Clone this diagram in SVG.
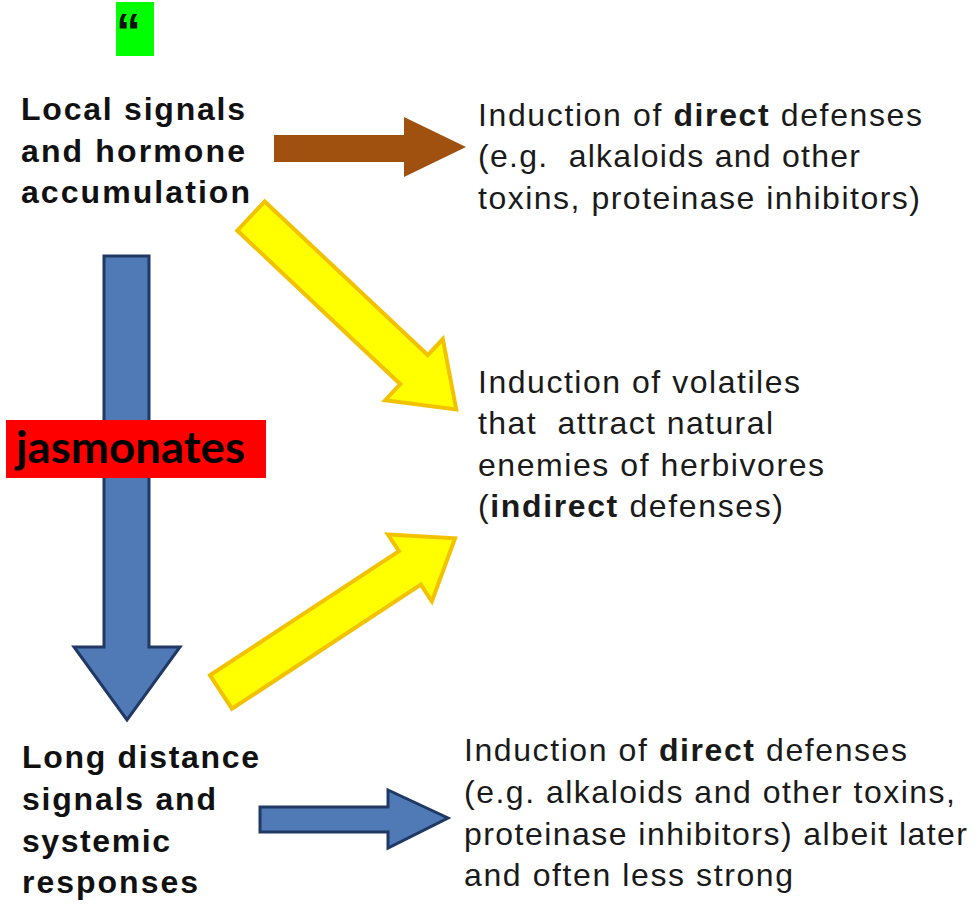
<svg xmlns="http://www.w3.org/2000/svg" width="979" height="907" viewBox="0 0 979 907">
<style>
.lbl{font-family:"Liberation Sans",Arial,sans-serif;font-weight:bold;font-size:32px;fill:#111}
.txt{font-family:"Liberation Sans",Arial,sans-serif;font-size:32px;fill:#1a1a1a;white-space:pre}
.b{font-weight:bold}
.yel{fill:#FFFF00;stroke:#F2C200;stroke-width:4;stroke-linejoin:miter}
.blue{fill:#4F7AB5;stroke:#1F3864;stroke-width:3}
.brown{fill:#A0500F}
</style>
<rect width="979" height="907" fill="#fff"/>
<g id="connectors">
  <polygon id="arrow-local-direct" class="brown" points="274,135 404,135 404,117 466,147 404,177 404,162 274,162"/>
  <polygon id="arrow-local-indirect" class="yel" transform="translate(251,216) rotate(43.3)" points="0,-20 224,-20 224,-42 282,0 224,42 224,20 0,20"/>
  <polygon id="arrow-long-indirect" class="yel" transform="translate(221,692) rotate(-33.3)" points="0,-20 226,-20 226,-40 280,0 226,40 226,20 0,20"/>
  <polygon id="arrow-local-long" class="blue" points="104,256 149,256 149,647 180,647 127,720 74,647 104,647"/>
  <polygon id="arrow-long-direct" class="blue" points="260,807 388,807 388,790 448,818 388,848 388,832 260,832"/>
</g>
<g id="quote">
  <rect x="116" y="2" width="38" height="54" fill="#00FF00"/>
  <text x="116" y="49" font-family="'Liberation Sans',Arial,sans-serif" font-weight="bold" font-size="50" fill="#111">“</text>
</g>
<g id="local">
  <text class="lbl" x="21" y="120" textLength="224" lengthAdjust="spacing">Local signals</text>
  <text class="lbl" x="21" y="162" textLength="224" lengthAdjust="spacing">and hormone</text>
  <text class="lbl" x="21" y="203" textLength="229" lengthAdjust="spacing">accumulation</text>
</g>
<g id="direct-top">
  <text class="txt" x="478" y="126" textLength="444" lengthAdjust="spacing">Induction of <tspan class="b">direct</tspan> defenses</text>
  <text class="txt" x="478" y="167" textLength="382" lengthAdjust="spacing">(e.g.  alkaloids and other</text>
  <text class="txt" x="478" y="209" textLength="442" lengthAdjust="spacing">toxins, proteinase inhibitors)</text>
</g>
<g id="indirect">
  <text class="txt" x="478" y="393" textLength="322" lengthAdjust="spacing">Induction of volatiles</text>
  <text class="txt" x="478" y="434" textLength="295" lengthAdjust="spacing">that  attract natural</text>
  <text class="txt" x="478" y="476" textLength="346" lengthAdjust="spacing">enemies of herbivores</text>
  <text class="txt" x="478" y="517" textLength="305" lengthAdjust="spacing">(<tspan class="b">indirect</tspan> defenses)</text>
</g>
<g id="jasmonates">
  <rect x="6" y="420" width="260" height="58" fill="#FF0000"/>
  <text x="16" y="463" textLength="229" lengthAdjust="spacingAndGlyphs" font-family="Lato,'Open Sans',sans-serif" font-weight="bold" font-size="43" fill="#000">jasmonates</text>
</g>
<g id="long">
  <text class="lbl" x="22" y="768" textLength="237" lengthAdjust="spacing">Long distance</text>
  <text class="lbl" x="22" y="810" textLength="194" lengthAdjust="spacing">signals and</text>
  <text class="lbl" x="22" y="852" textLength="148" lengthAdjust="spacing">systemic</text>
  <text class="lbl" x="22" y="893" textLength="176" lengthAdjust="spacing">responses</text>
</g>
<g id="direct-bottom">
  <text class="txt" x="464" y="761" textLength="443" lengthAdjust="spacing">Induction of <tspan class="b">direct</tspan> defenses</text>
  <text class="txt" x="464" y="803" textLength="491" lengthAdjust="spacing">(e.g. alkaloids and other toxins,</text>
  <text class="txt" x="464" y="845" textLength="503" lengthAdjust="spacing">proteinase inhibitors) albeit later</text>
  <text class="txt" x="464" y="886" textLength="329" lengthAdjust="spacing">and often less strong</text>
</g>
</svg>
